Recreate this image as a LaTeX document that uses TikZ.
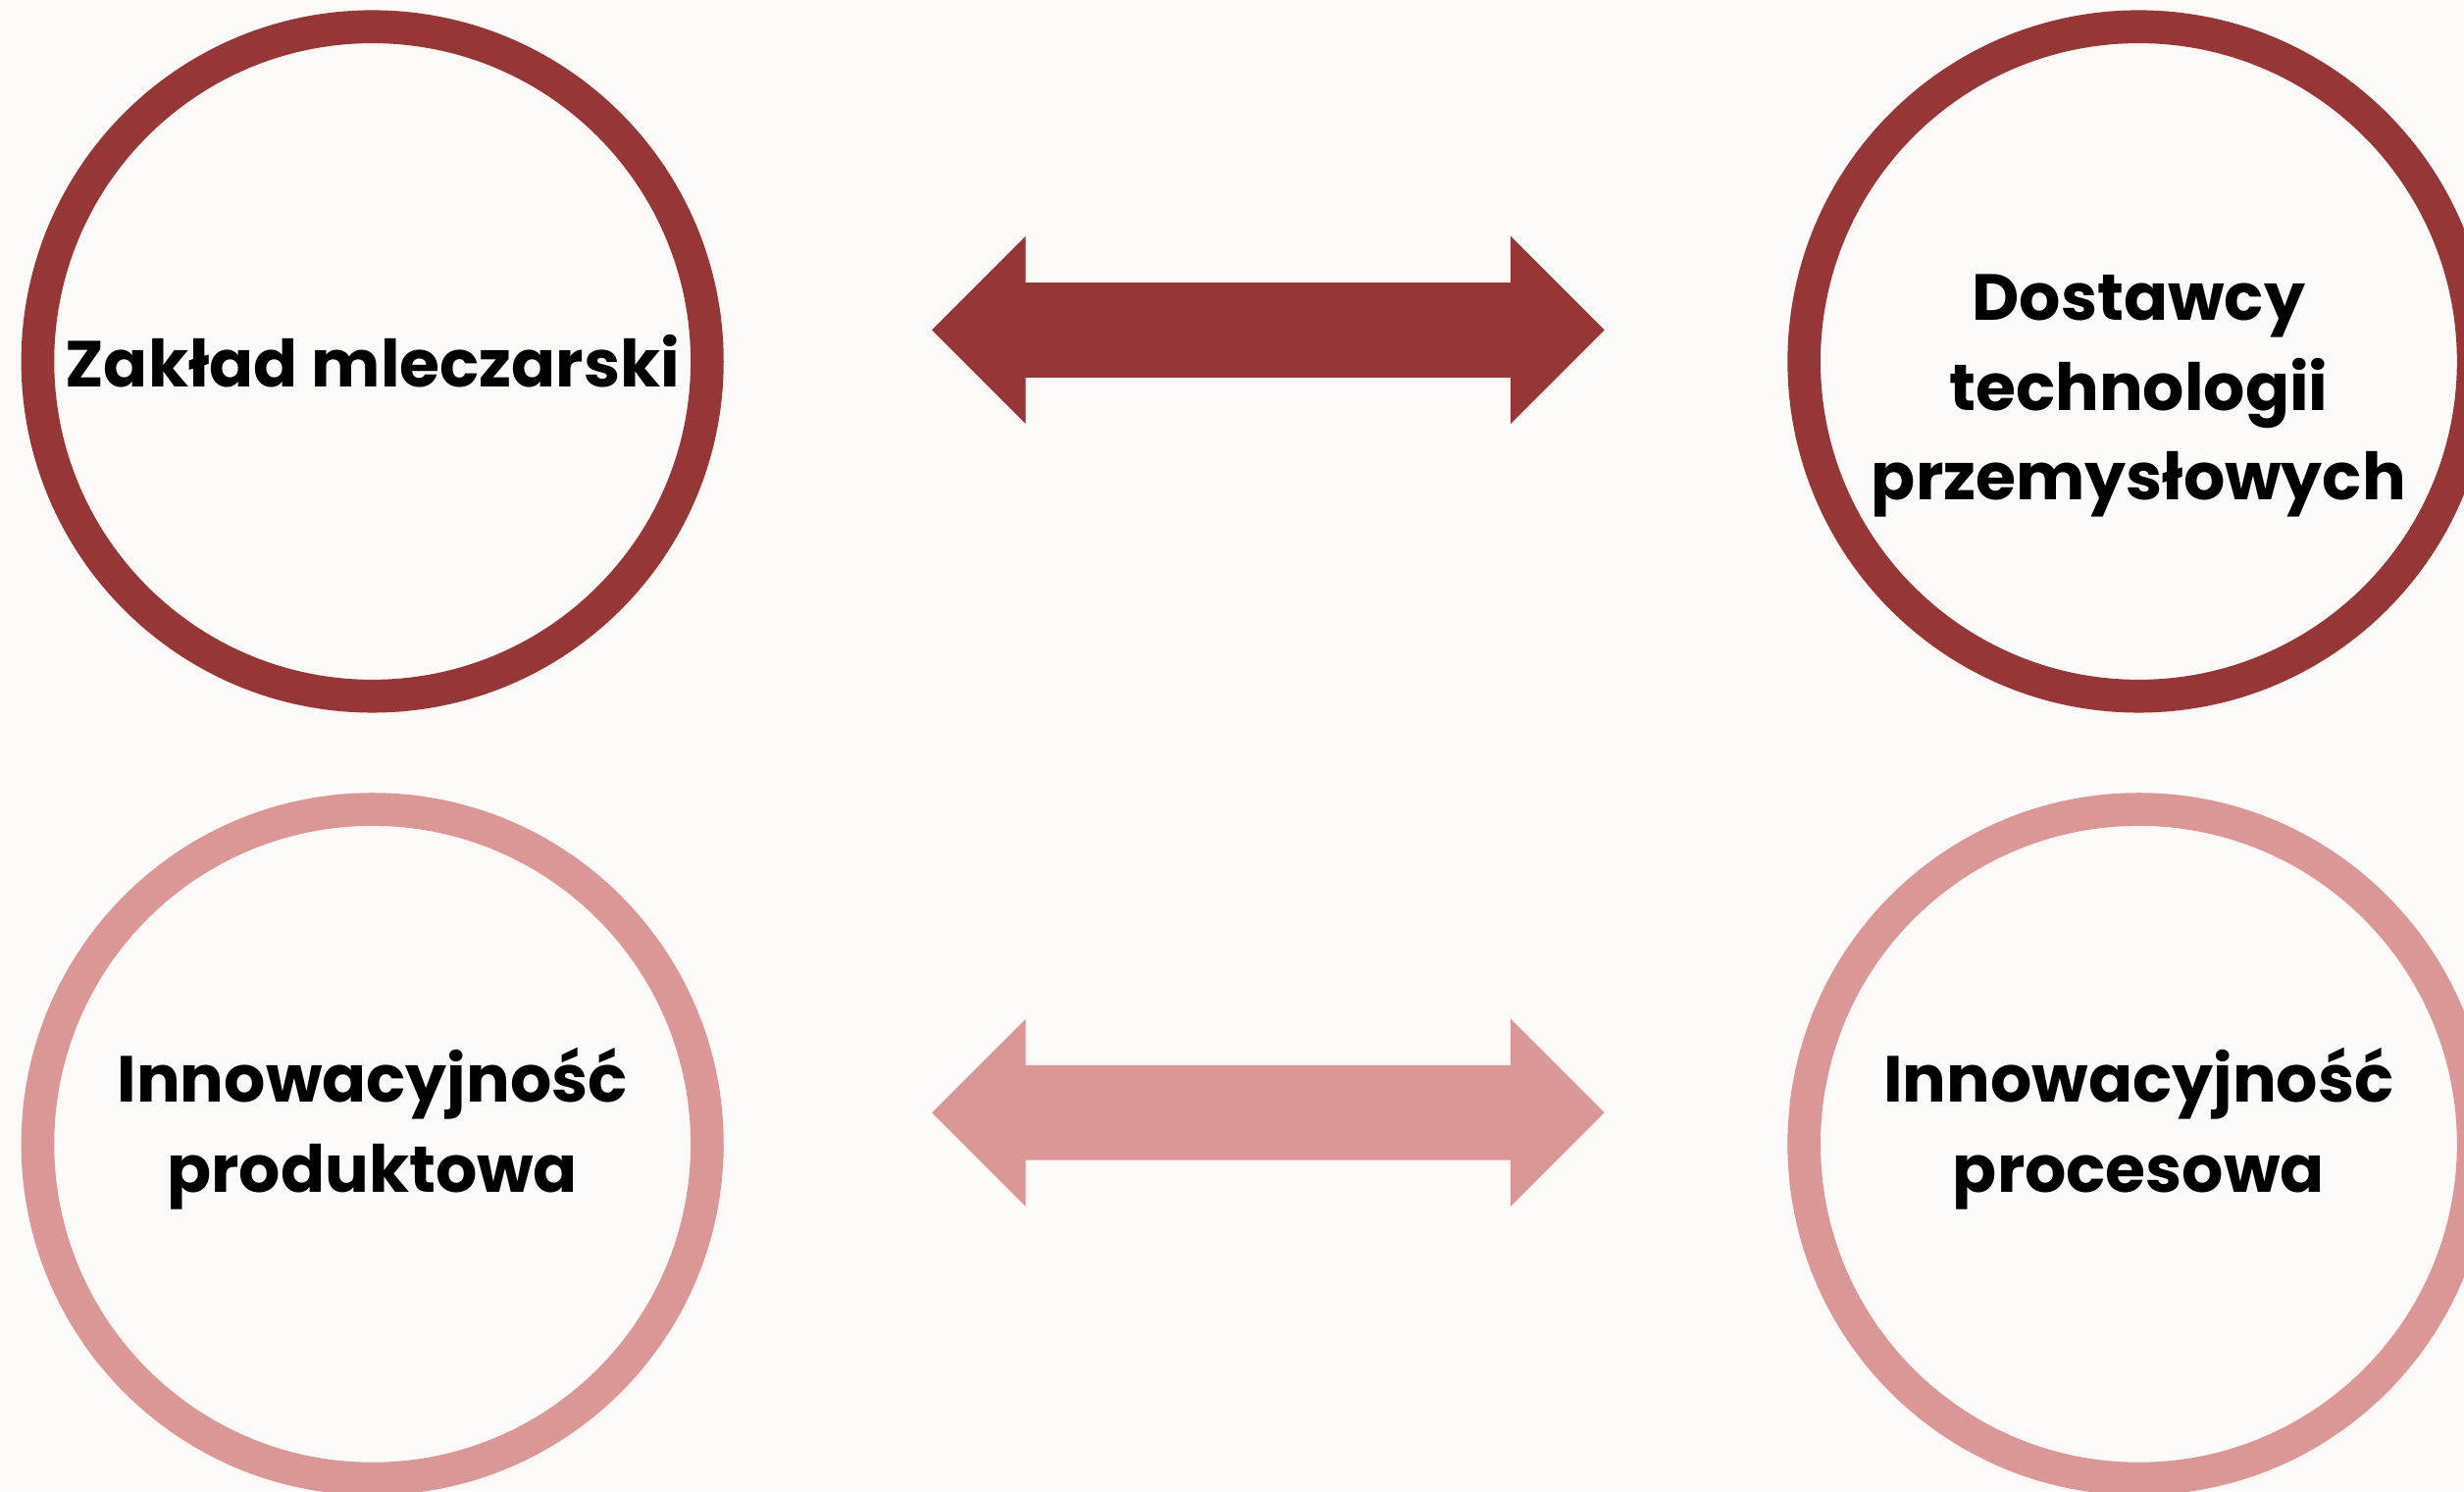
\documentclass[tikz,border=0pt]{standalone}
\usepackage{fontspec}
\setmainfont{Poppins}
\usepackage{xcolor}
\usetikzlibrary{shapes.arrows, positioning}
\definecolor{wine}{HTML}{963636}
\definecolor{rose}{HTML}{DB9696}
\definecolor{paper}{HTML}{FCFAF9}

\begin{document}
\begin{tikzpicture}[
    ring/.style={circle, draw=#1, line width=0.21cm, minimum size=4.26cm, inner sep=0pt},
    ringtext/.style={align=center, font=\bfseries\fontsize{11.8}{16.3}\selectfont},
    bothways/.style={double arrow, fill=#1, draw=none, inner xsep=0pt, inner ysep=0.295cm,
        minimum height=4.28cm, double arrow head extend=0.295cm, double arrow tip angle=90}
]
\useasboundingbox (0,0) rectangle (15.68,9.49);
\fill[paper] (0,0) rectangle (15.68,9.49);
\clip (0,0) rectangle (15.68,9.49);

\node[ring=wine] (dairy) at (2.37, 7.19) {};
\node[ring=wine] (suppliers) at (13.61, 7.19) {};
\node[ring=rose] (product) at (2.37, 2.21) {};
\node[ring=rose] (process) at (13.61, 2.21) {};

\node[ringtext] (dairytext) at (dairy.center) {Zakład mleczarski};
\node[ringtext, yshift=-0.22cm] (supplierstext) at (suppliers.center) {Dostawcy\\technologii\\przemysłowych};
\node[ringtext, yshift=0.1cm] (producttext) at (product.center) {Innowacyjność\\produktowa};
\node[ringtext, yshift=0.1cm] (processtext) at (process.center) {Innowacyjność\\procesowa};

\node[bothways=wine] (toplink) at (8.07, 7.39) {};
\node[bothways=rose] (bottomlink) at (8.07, 2.41) {};
\end{tikzpicture}
\end{document}
